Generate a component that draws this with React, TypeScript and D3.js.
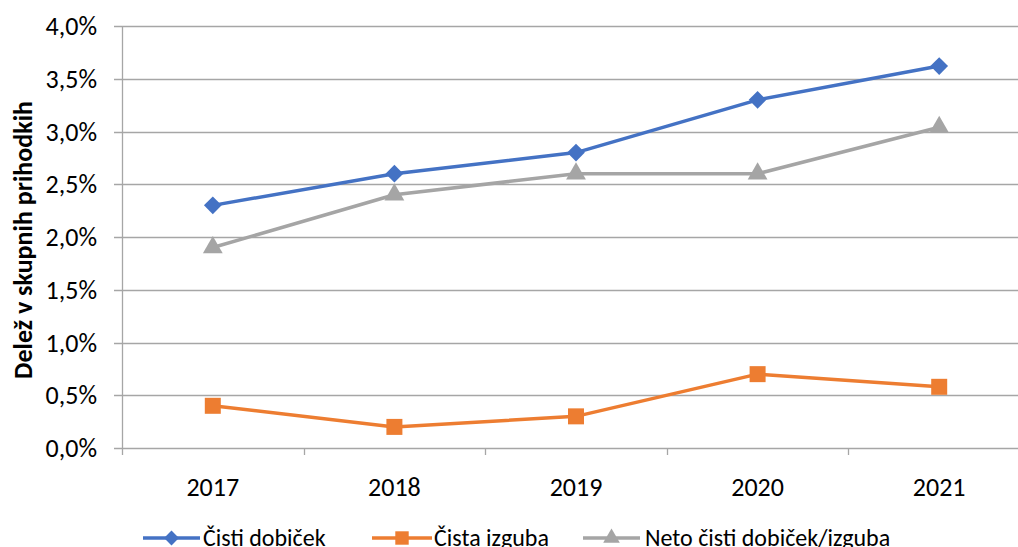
import * as d3 from "d3";
import { useEffect, useRef } from "react";

const years = ["2017", "2018", "2019", "2020", "2021"];
const cistiDobicek = [2.3, 2.6, 2.8, 3.3, 3.62];
const cistaIzguba = [0.4, 0.2, 0.3, 0.7, 0.58];
const netoDobicek = [1.9, 2.4, 2.6, 2.6, 3.04];
const yTicks = [0, 0.5, 1, 1.5, 2, 2.5, 3, 3.5, 4];

const seriesNames = ["Čisti dobiček", "Čista izguba", "Neto čisti dobiček/izguba"];
const seriesColors = ["#4472C4", "#ED7D31", "#A5A5A5"];
const seriesSymbols = [d3.symbolDiamond2, d3.symbolSquare, d3.symbolTriangle];

const FONT = "Carlito, Calibri, Lato, 'Open Sans', sans-serif";

export default function App() {
  const ref = useRef<SVGSVGElement>(null);

  useEffect(() => {
    if (!ref.current) return;
    const svg = d3.select(ref.current);
    svg.selectAll("*").remove();

    const width = 1018,
      height = 547,
      margin = { top: 26, right: -12, bottom: 99, left: 122 };

    const x = d3
      .scaleBand()
      .domain(years)
      .range([margin.left, width - margin.right]);

    const y = d3
      .scaleLinear()
      .domain([0, 4])
      .range([height - margin.bottom, margin.top]);

    const fmt = (v: number) => v.toFixed(1).replace(".", ",") + "%";

    // Grid lines
    svg.append("g")
      .selectAll("line")
      .data(yTicks)
      .enter()
      .append("line")
      .attr("x1", margin.left - 8)
      .attr("x2", width)
      .attr("y1", (d) => Math.round(y(d)) + 0.5)
      .attr("y2", (d) => Math.round(y(d)) + 0.5)
      .attr("stroke", "#A6A6A6")
      .attr("stroke-width", 1.3);

    // Y axis line
    svg.append("line")
      .attr("x1", margin.left + 0.5)
      .attr("x2", margin.left + 0.5)
      .attr("y1", y(4))
      .attr("y2", y(0) + 7)
      .attr("stroke", "#A6A6A6")
      .attr("stroke-width", 1.3);

    // X ticks
    const xTickPos = years.map((d) => x(d)!).concat([x(years[years.length - 1])! + x.bandwidth()]);
    svg.append("g")
      .selectAll("line")
      .data(xTickPos.slice(1))
      .enter()
      .append("line")
      .attr("x1", (d) => Math.round(d) + 0.5)
      .attr("x2", (d) => Math.round(d) + 0.5)
      .attr("y1", y(0))
      .attr("y2", y(0) + 7)
      .attr("stroke", "#A6A6A6")
      .attr("stroke-width", 1.3);

    // Y tick labels
    svg.append("g")
      .selectAll("text")
      .data(yTicks)
      .enter()
      .append("text")
      .attr("x", 97)
      .attr("y", (d) => y(d))
      .attr("dy", "0.35em")
      .attr("text-anchor", "end")
      .attr("font-family", FONT)
      .attr("font-size", "26px")
      .attr("fill", "#000")
      .text((d) => fmt(d));

    // X tick labels
    svg.append("g")
      .selectAll("text")
      .data(years)
      .enter()
      .append("text")
      .attr("x", (d) => x(d)! + x.bandwidth() / 2)
      .attr("y", 496)
      .attr("text-anchor", "middle")
      .attr("font-family", FONT)
      .attr("font-size", "26px")
      .attr("fill", "#000")
      .text((d) => d);

    // Y-axis title
    svg.append("text")
      .attr("transform", "rotate(-90)")
      .attr("x", -240)
      .attr("y", 32)
      .attr("text-anchor", "middle")
      .attr("font-family", FONT)
      .attr("font-weight", "bold")
      .attr("font-size", "26px")
      .attr("fill", "#000")
      .text("Delež v skupnih prihodkih");

    const allSeries = [cistiDobicek, cistaIzguba, netoDobicek];
    const markerSizes = [200, 256, 170];
    const line = d3
      .line<number>()
      .x((_, i) => x(years[i])! + x.bandwidth() / 2)
      .y((d) => y(d));

    allSeries.forEach((values, si) => {
      svg.append("path")
        .datum(values)
        .attr("d", line)
        .attr("fill", "none")
        .attr("stroke", seriesColors[si])
        .attr("stroke-width", 3.5)
        .attr("stroke-linejoin", "round");

      svg.append("g")
        .selectAll("path")
        .data(values)
        .enter()
        .append("path")
        .attr("transform", (d, i) => `translate(${x(years[i])! + x.bandwidth() / 2},${y(d)})`)
        .attr("d", d3.symbol().type(seriesSymbols[si]).size(markerSizes[si])())
        .attr("fill", seriesColors[si]);
    });

    // Legend
    const legendItems = [
      { x1: 143, x2: 200, tx: 203 },
      { x1: 372, x2: 432, tx: 434 },
      { x1: 583, x2: 640, tx: 645 },
    ];
    const legendSizes = [140, 180, 120];
    const ly = 538;
    legendItems.forEach((it, si) => {
      svg.append("line")
        .attr("x1", it.x1)
        .attr("x2", it.x2)
        .attr("y1", ly)
        .attr("y2", ly)
        .attr("stroke", seriesColors[si])
        .attr("stroke-width", 3.5);
      svg.append("path")
        .attr("transform", `translate(${(it.x1 + it.x2) / 2},${ly})`)
        .attr("d", d3.symbol().type(seriesSymbols[si]).size(legendSizes[si])())
        .attr("fill", seriesColors[si]);
      svg.append("text")
        .attr("x", it.tx)
        .attr("y", ly)
        .attr("dy", "0.35em")
        .attr("font-family", FONT)
        .attr("font-size", "24px")
        .attr("fill", "#000")
        .text(seriesNames[si]);
    });
  }, []);

  return (
    <svg
      ref={ref}
      width={1018}
      height={547}
      style={{ position: "absolute", left: 0, top: 0, background: "#fff", display: "block" }}
    />
  );
}
